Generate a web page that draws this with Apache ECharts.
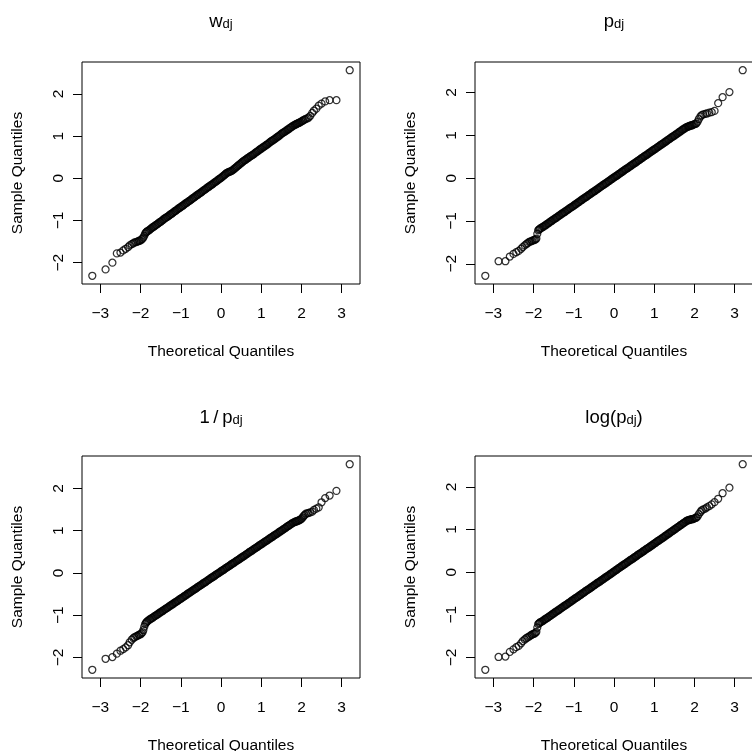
<!DOCTYPE html>
<html>
<head>
<meta charset="utf-8">
<script src="https://cdn.jsdelivr.net/npm/echarts@6/dist/echarts.min.js"></script>
<style>
html, body { margin: 0; padding: 0; background: #fff; }
#chart { width: 752px; height: 751px; }
</style>
</head>
<body>
<div id="chart"></div>
<script>
// Theoretical normal quantiles shared by all four panels
const theoretical = [
  -3.2, -2.87, -2.7, -2.59, -2.5, -2.43, -2.37, -2.31, -2.27, -2.22, -2.18, -2.15, -2.11,
  -2.08, -2.05, -2.03, -2, -1.975, -1.95, -1.93, -1.907, -1.886, -1.866, -1.847, -1.828,
  -1.8, -1.775, -1.75, -1.725, -1.7, -1.675, -1.65, -1.625,
  -1.6, -1.575, -1.55, -1.525, -1.5, -1.475, -1.45, -1.425,
  -1.4, -1.375, -1.35, -1.325, -1.3, -1.275, -1.25, -1.225,
  -1.2, -1.175, -1.15, -1.125, -1.1, -1.075, -1.05, -1.025,
  -1, -0.975, -0.95, -0.925, -0.9, -0.875, -0.85, -0.825,
  -0.8, -0.775, -0.75, -0.725, -0.7, -0.675, -0.65, -0.625,
  -0.6, -0.575, -0.55, -0.525, -0.5, -0.475, -0.45, -0.425,
  -0.4, -0.375, -0.35, -0.325, -0.3, -0.275, -0.25, -0.225,
  -0.2, -0.175, -0.15, -0.125, -0.1, -0.075, -0.05, -0.025,
  0, 0.025, 0.05, 0.075, 0.1, 0.125, 0.15, 0.175,
  0.2, 0.225, 0.25, 0.275, 0.3, 0.325, 0.35, 0.375,
  0.4, 0.425, 0.45, 0.475, 0.5, 0.525, 0.55, 0.575,
  0.6, 0.625, 0.65, 0.675, 0.7, 0.725, 0.75, 0.775,
  0.8, 0.825, 0.85, 0.875, 0.9, 0.925, 0.95, 0.975,
  1, 1.025, 1.05, 1.075, 1.1, 1.125, 1.15, 1.175,
  1.2, 1.225, 1.25, 1.275, 1.3, 1.325, 1.35, 1.375,
  1.4, 1.425, 1.45, 1.475, 1.5, 1.525, 1.55, 1.575,
  1.6, 1.625, 1.65, 1.675, 1.7, 1.725, 1.75, 1.775,
  1.8,
  1.828, 1.847, 1.866, 1.886, 1.907, 1.93, 1.95, 1.975, 2, 2.03, 2.05, 2.08, 2.11,
  2.15, 2.18, 2.22, 2.27, 2.31, 2.37, 2.43, 2.5, 2.59, 2.7, 2.87, 3.2
];

// Sample quantiles of w_dj
const sampleW = [
  -2.31, -2.16, -2.00, -1.78, -1.76, -1.71, -1.67, -1.63, -1.59, -1.56, -1.54, -1.52, -1.51,
  -1.50, -1.49, -1.48, -1.47, -1.45, -1.43, -1.40, -1.36, -1.31, -1.28, -1.27, -1.25,
  -1.24, -1.22, -1.20, -1.18, -1.16, -1.15, -1.13, -1.11,
  -1.10, -1.08, -1.06, -1.04, -1.03, -1.01, -0.99, -0.97,
  -0.95, -0.94, -0.92, -0.91, -0.89, -0.87, -0.85, -0.84,
  -0.82, -0.80, -0.78, -0.77, -0.75, -0.73, -0.71, -0.70,
  -0.68, -0.66, -0.65, -0.63, -0.61, -0.59, -0.58, -0.56,
  -0.54, -0.53, -0.51, -0.49, -0.47, -0.46, -0.44, -0.42,
  -0.40, -0.39, -0.37, -0.35, -0.34, -0.32, -0.30, -0.28,
  -0.27, -0.25, -0.23, -0.21, -0.20, -0.18, -0.16, -0.15,
  -0.13, -0.11, -0.09, -0.08, -0.06, -0.04, -0.02, -0.01,
  0.01, 0.03, 0.05, 0.07, 0.09, 0.11, 0.13, 0.14,
  0.15, 0.16, 0.17, 0.18, 0.20, 0.22, 0.24, 0.26,
  0.28, 0.30, 0.32, 0.34, 0.36, 0.38, 0.40, 0.42,
  0.43, 0.45, 0.47, 0.48, 0.50, 0.52, 0.53, 0.55,
  0.56, 0.58, 0.60, 0.62, 0.63, 0.65, 0.67, 0.69,
  0.70, 0.72, 0.74, 0.75, 0.77, 0.79, 0.80, 0.82,
  0.84, 0.86, 0.88, 0.89, 0.91, 0.92, 0.94, 0.96,
  0.98, 0.99, 1.01, 1.03, 1.05, 1.07, 1.08, 1.10,
  1.11, 1.13, 1.15, 1.16, 1.18, 1.20, 1.21, 1.23,
  1.25,
  1.26, 1.27, 1.28, 1.29, 1.30, 1.31, 1.32, 1.33, 1.35, 1.36, 1.38, 1.39, 1.41,
  1.42, 1.44, 1.48, 1.55, 1.60, 1.65, 1.72, 1.77, 1.82, 1.85, 1.85, 2.56
];

// Sample quantiles of p_dj
const sampleP = [
  -2.28, -1.94, -1.94, -1.83, -1.77, -1.73, -1.70, -1.65, -1.61, -1.57, -1.54, -1.52, -1.49,
  -1.48, -1.47, -1.46, -1.45, -1.44, -1.43, -1.41, -1.30, -1.22, -1.20, -1.19, -1.17,
  -1.16, -1.14, -1.13, -1.11, -1.10, -1.08, -1.06, -1.05,
  -1.03, -1.01, -1.00, -0.98, -0.96, -0.95, -0.93, -0.92,
  -0.90, -0.88, -0.87, -0.85, -0.83, -0.82, -0.80, -0.79,
  -0.77, -0.75, -0.74, -0.72, -0.70, -0.69, -0.67, -0.66,
  -0.64, -0.62, -0.61, -0.59, -0.57, -0.56, -0.54, -0.52,
  -0.51, -0.49, -0.47, -0.46, -0.44, -0.43, -0.41, -0.39,
  -0.38, -0.36, -0.34, -0.33, -0.31, -0.30, -0.28, -0.26,
  -0.25, -0.23, -0.21, -0.20, -0.18, -0.16, -0.15, -0.13,
  -0.12, -0.10, -0.08, -0.07, -0.05, -0.03, -0.02, 0.00,
  0.02, 0.03, 0.05, 0.06, 0.08, 0.10, 0.11, 0.13,
  0.15, 0.16, 0.18, 0.20, 0.21, 0.23, 0.24, 0.26,
  0.28, 0.29, 0.31, 0.33, 0.34, 0.36, 0.37, 0.39,
  0.41, 0.42, 0.44, 0.46, 0.47, 0.49, 0.51, 0.52,
  0.54, 0.55, 0.57, 0.59, 0.60, 0.62, 0.64, 0.65,
  0.67, 0.68, 0.70, 0.72, 0.73, 0.75, 0.77, 0.78,
  0.80, 0.81, 0.83, 0.85, 0.86, 0.88, 0.90, 0.91,
  0.93, 0.95, 0.96, 0.98, 0.99, 1.01, 1.03, 1.04,
  1.06, 1.08, 1.09, 1.11, 1.13, 1.14, 1.16, 1.17,
  1.19,
  1.20, 1.21, 1.21, 1.22, 1.23, 1.23, 1.24, 1.25, 1.26, 1.27, 1.28, 1.32, 1.38,
  1.44, 1.47, 1.49, 1.50, 1.51, 1.53, 1.54, 1.57, 1.75, 1.89, 2.01, 2.52
];

// Sample quantiles of 1/p_dj
const sampleInvP = [
  -2.29, -2.03, -1.99, -1.91, -1.84, -1.80, -1.76, -1.71, -1.64, -1.58, -1.54, -1.52, -1.50,
  -1.49, -1.47, -1.46, -1.45, -1.43, -1.40, -1.35, -1.27, -1.21, -1.18, -1.16, -1.14,
  -1.12, -1.10, -1.09, -1.07, -1.06, -1.04, -1.02, -1.01,
  -0.99, -0.98, -0.96, -0.94, -0.93, -0.91, -0.90, -0.88,
  -0.86, -0.85, -0.83, -0.82, -0.80, -0.78, -0.77, -0.75,
  -0.74, -0.72, -0.70, -0.69, -0.67, -0.66, -0.64, -0.62,
  -0.61, -0.59, -0.58, -0.56, -0.54, -0.53, -0.51, -0.49,
  -0.48, -0.46, -0.45, -0.43, -0.41, -0.40, -0.38, -0.37,
  -0.35, -0.33, -0.32, -0.30, -0.29, -0.27, -0.25, -0.24,
  -0.22, -0.21, -0.19, -0.17, -0.16, -0.14, -0.12, -0.11,
  -0.09, -0.08, -0.06, -0.04, -0.03, -0.01, 0.00, 0.02,
  0.04, 0.05, 0.07, 0.08, 0.10, 0.12, 0.13, 0.15,
  0.16, 0.18, 0.20, 0.21, 0.23, 0.24, 0.26, 0.28,
  0.29, 0.31, 0.32, 0.34, 0.36, 0.37, 0.39, 0.40,
  0.42, 0.44, 0.45, 0.47, 0.49, 0.50, 0.52, 0.53,
  0.55, 0.57, 0.58, 0.60, 0.61, 0.63, 0.65, 0.66,
  0.68, 0.69, 0.71, 0.73, 0.74, 0.76, 0.77, 0.79,
  0.81, 0.82, 0.84, 0.85, 0.87, 0.89, 0.90, 0.92,
  0.93, 0.95, 0.97, 0.98, 1.00, 1.01, 1.03, 1.05,
  1.06, 1.08, 1.10, 1.11, 1.13, 1.14, 1.16, 1.18,
  1.19,
  1.20, 1.21, 1.22, 1.22, 1.23, 1.24, 1.25, 1.26, 1.28, 1.31, 1.34, 1.37, 1.40,
  1.41, 1.42, 1.43, 1.45, 1.49, 1.52, 1.55, 1.67, 1.77, 1.83, 1.94, 2.57
];

// Sample quantiles of log(p_dj)
const sampleLogP = [
  -2.29, -1.99, -1.98, -1.87, -1.81, -1.76, -1.73, -1.67, -1.62, -1.58, -1.55, -1.53, -1.51,
  -1.49, -1.47, -1.46, -1.45, -1.44, -1.42, -1.40, -1.30, -1.22, -1.20, -1.19, -1.17,
  -1.16, -1.15, -1.13, -1.11, -1.10, -1.08, -1.07, -1.05,
  -1.03, -1.02, -1.00, -0.98, -0.97, -0.95, -0.93, -0.92,
  -0.90, -0.89, -0.87, -0.85, -0.84, -0.82, -0.80, -0.79,
  -0.77, -0.76, -0.74, -0.72, -0.71, -0.69, -0.67, -0.66,
  -0.64, -0.62, -0.61, -0.59, -0.58, -0.56, -0.54, -0.53,
  -0.51, -0.49, -0.48, -0.46, -0.44, -0.43, -0.41, -0.40,
  -0.38, -0.36, -0.35, -0.33, -0.31, -0.30, -0.28, -0.26,
  -0.25, -0.23, -0.22, -0.20, -0.18, -0.17, -0.15, -0.13,
  -0.12, -0.10, -0.09, -0.07, -0.05, -0.04, -0.02, 0.00,
  0.01, 0.03, 0.05, 0.06, 0.08, 0.10, 0.11, 0.13,
  0.15, 0.16, 0.18, 0.19, 0.21, 0.23, 0.24, 0.26,
  0.28, 0.29, 0.31, 0.32, 0.34, 0.36, 0.37, 0.39,
  0.41, 0.42, 0.44, 0.45, 0.47, 0.49, 0.50, 0.52,
  0.54, 0.55, 0.57, 0.58, 0.60, 0.62, 0.63, 0.65,
  0.67, 0.68, 0.70, 0.72, 0.73, 0.75, 0.76, 0.78,
  0.80, 0.81, 0.83, 0.85, 0.86, 0.88, 0.90, 0.91,
  0.93, 0.95, 0.96, 0.98, 1.00, 1.01, 1.03, 1.05,
  1.06, 1.08, 1.10, 1.11, 1.13, 1.15, 1.16, 1.18,
  1.20,
  1.21, 1.22, 1.22, 1.23, 1.23, 1.24, 1.24, 1.25, 1.26, 1.27, 1.28, 1.31, 1.36,
  1.41, 1.45, 1.47, 1.49, 1.52, 1.55, 1.59, 1.64, 1.72, 1.85, 1.98, 2.53
];

const xTicks = [-3, -2, -1, 0, 1, 2, 3];
const yTicks = [-2, -1, 0, 1, 2];
const panelTitles = ['{m|w}{s|dj}', '{m|p}{s|dj}', '{m|1\u2009/\u2009p}{s|dj}', '{m|log(p}{s|dj}{m|)}'];
const panelSamples = [sampleW, sampleP, sampleInvP, sampleLogP];
const xName = 'Theoretical Quantiles';
const yName = 'Sample Quantiles';

// Panel placement on the page
const FONT = "'Liberation Sans', Arial, Helvetica, sans-serif";
const PLOT_W = 278, PLOT_H = 222;
const panelBoxes = [
  { left: 82,  top: 62,  cx: 221, titleTop: 9 },
  { left: 475, top: 62,  cx: 614, titleTop: 9 },
  { left: 82,  top: 456, cx: 221, titleTop: 405 },
  { left: 475, top: 456, cx: 614, titleTop: 405 }
];

// Axis limits padded by 4% of the data range on each side
function paddedRange(values) {
  const lo = Math.min.apply(null, values);
  const hi = Math.max.apply(null, values);
  const pad = (hi - lo) * 0.04;
  return [lo - pad, hi + pad];
}
function tickText(v) {
  return v < 0 ? '\u2212' + Math.abs(v) : String(v);
}

const xRange = paddedRange(theoretical);
const textBase = { color: '#000', fontFamily: FONT, fontSize: 15.5, fontWeight: 'normal' };

const option = {
  animation: false,
  backgroundColor: '#fff',
  textStyle: { fontFamily: FONT },
  title: panelBoxes.map((b, i) => ({
    text: panelTitles[i],
    left: b.cx,
    top: b.titleTop,
    textAlign: 'center',
    padding: 0,
    textStyle: {
      fontWeight: 'normal',
      rich: {
        m: { fontSize: 18.5, lineHeight: 22, verticalAlign: 'bottom', color: '#000', fontFamily: FONT, fontWeight: 'normal' },
        s: { fontSize: 13, lineHeight: 14.6, verticalAlign: 'bottom', color: '#000', fontFamily: FONT, fontWeight: 'normal' }
      }
    }
  })),
  grid: panelBoxes.map(b => ({
    left: b.left, top: b.top, width: PLOT_W, height: PLOT_H,
    show: true, borderColor: '#000', borderWidth: 1, backgroundColor: 'transparent',
    containLabel: false, outerBoundsMode: 'none'
  })),
  xAxis: panelBoxes.map((b, i) => ({
    gridIndex: i, type: 'value', min: xRange[0], max: xRange[1], position: 'bottom',
    axisLine: { show: false, onZero: false }, splitLine: { show: false },
    axisTick: { show: true, inside: false, length: 9, customValues: xTicks, lineStyle: { color: '#000', width: 1 } },
    axisLabel: { show: true, customValues: xTicks, formatter: tickText, margin: 22, ...textBase },
    name: xName, nameLocation: 'middle', nameGap: 60, nameTextStyle: { ...textBase }
  })),
  yAxis: panelBoxes.map((b, i) => {
    const r = paddedRange(panelSamples[i]);
    return {
      gridIndex: i, type: 'value', min: r[0], max: r[1], position: 'left',
      axisLine: { show: false, onZero: false }, splitLine: { show: false },
      axisTick: { show: true, inside: false, length: 9, customValues: yTicks, lineStyle: { color: '#000', width: 1 } },
      axisLabel: { show: true, customValues: yTicks, formatter: tickText, rotate: 90, margin: 15.5, ...textBase },
      name: yName, nameLocation: 'middle', nameGap: 56, nameTextStyle: { ...textBase }
    };
  }),
  series: panelSamples.map((s, i) => ({
    type: 'scatter', xAxisIndex: i, yAxisIndex: i,
    data: theoretical.map((q, k) => [q, s[k]]),
    symbol: 'circle', symbolSize: 7,
    itemStyle: { color: 'rgba(0,0,0,0)', borderColor: '#000', borderWidth: 1.25 },
    silent: true, emphasis: { disabled: true }, clip: false
  }))
};

const chart = echarts.init(document.getElementById('chart'), null, { renderer: 'canvas' });
chart.setOption(option);
</script>
</body>
</html>
